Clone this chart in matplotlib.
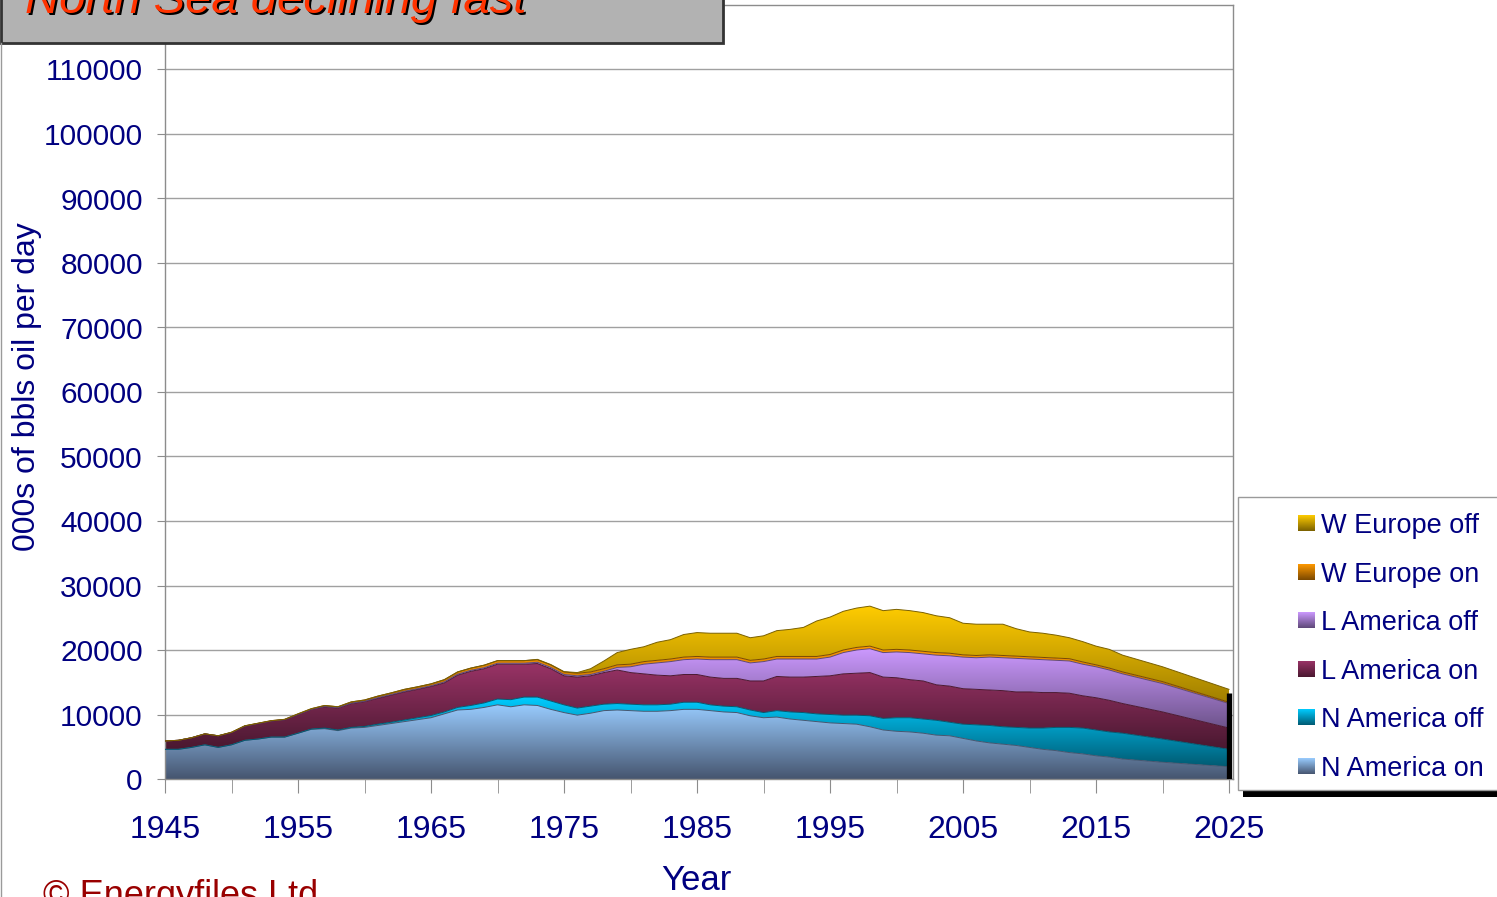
import matplotlib.pyplot as plt
import numpy as np
from matplotlib.colors import LinearSegmentedColormap
from matplotlib.patches import Rectangle
from matplotlib.lines import Line2D

plt.rcParams['font.family'] = ['Liberation Sans', 'DejaVu Sans']

W, H = 1497, 897
NAVY = '#000080'

years = list(range(1945, 2018)) + [2020, 2025]

n_america_on = [4600, 4600, 4900, 5300, 4900, 5300, 6000, 6200, 6500, 6500,
                7100, 7700, 7800, 7500, 7900, 8000, 8300, 8600, 8900, 9200,
                9500, 10100, 10700, 10800, 11100, 11500, 11200, 11500, 11400, 10800,
                10300, 9900, 10200, 10600, 10700, 10600, 10500, 10500, 10600, 10800,
                10800, 10600, 10400, 10300, 9800, 9500, 9600, 9300, 9100, 8900,
                8700, 8600, 8500, 8100, 7600, 7400, 7300, 7100, 6800, 6700,
                6300, 5900, 5600, 5400, 5200, 4900, 4600, 4400, 4100, 3900,
                3600, 3400, 3100, 2600, 1900]
n_america_off = [0, 0, 0, 0, 0, 0, 0, 0, 0, 0,
                 0, 50, 100, 100, 100, 150, 200, 200, 250, 300,
                 350, 300, 400, 600, 700, 900, 1100, 1200, 1300, 1300,
                 1200, 1100, 1100, 1000, 1000, 1000, 1000, 1000, 1000, 1100,
                 1100, 900, 900, 900, 900, 800, 1000, 1100, 1200, 1200,
                 1300, 1300, 1400, 1700, 1800, 2100, 2200, 2200, 2300, 2100,
                 2200, 2500, 2700, 2700, 2800, 3000, 3300, 3600, 3900, 4000,
                 4000, 3900, 4000, 3600, 2700]
l_america_on = [1300, 1400, 1500, 1700, 1800, 1900, 2200, 2400, 2500, 2700,
                2900, 3050, 3300, 3400, 3700, 3850, 4000, 4200, 4350, 4400,
                4500, 4500, 5000, 5300, 5300, 5400, 5500, 5100, 5200, 5000,
                4500, 4800, 4700, 4900, 5200, 4900, 4800, 4600, 4400, 4300,
                4300, 4300, 4300, 4400, 4500, 4900, 5300, 5400, 5500, 5800,
                6000, 6400, 6500, 6700, 6400, 6200, 5900, 5900, 5500, 5600,
                5500, 5500, 5500, 5600, 5500, 5600, 5500, 5400, 5300, 5000,
                5000, 4900, 4600, 4200, 3300]
l_america_off = [0, 0, 0, 0, 0, 0, 0, 0, 0, 0,
                 0, 0, 50, 50, 50, 50, 100, 100, 100, 100,
                 100, 150, 150, 150, 150, 150, 150, 150, 200, 200,
                 200, 200, 200, 200, 400, 900, 1500, 1900, 2200, 2300,
                 2400, 2700, 2900, 2900, 2800, 3000, 2700, 2800, 2800, 2700,
                 2900, 3300, 3600, 3700, 3800, 4000, 4200, 4200, 4600, 4700,
                 4900, 4900, 5100, 5100, 5200, 5100, 5100, 5000, 5000, 4900,
                 4800, 4700, 4600, 4400, 3800]
w_europe_on = [0, 0, 0, 0, 0, 50, 50, 50, 50, 50,
               100, 100, 150, 150, 200, 200, 250, 250, 300, 300,
               300, 350, 350, 350, 400, 400, 400, 400, 400, 400,
               400, 400, 400, 400, 400, 400, 400, 400, 400, 400,
               400, 400, 400, 400, 400, 400, 400, 400, 400, 400,
               400, 400, 400, 400, 400, 400, 400, 400, 400, 400,
               350, 350, 350, 350, 350, 350, 350, 350, 350, 350,
               300, 300, 300, 300, 200]
w_europe_off = [0, 0, 0, 0, 0, 0, 0, 0, 0, 0,
                0, 0, 0, 0, 0, 0, 0, 0, 0, 0,
                0, 0, 0, 0, 0, 0, 0, 0, 50, 50,
                50, 100, 500, 1200, 1900, 2300, 2300, 2800, 3000, 3500,
                3700, 3700, 3700, 3700, 3500, 3600, 4000, 4200, 4500, 5500,
                5800, 6000, 6100, 6200, 6100, 6200, 6100, 6000, 5700, 5500,
                4900, 4850, 4750, 4850, 4250, 3850, 3750, 3550, 3250, 3150,
                2900, 2900, 2600, 2300, 2000]

series = [
    ('N America on', n_america_on, '#99ccff', '#46556f'),
    ('N America off', n_america_off, '#00ccff', '#005a72'),
    ('L America on', l_america_on, '#993366', '#4a1830'),
    ('L America off', l_america_off, '#cc99ff', '#5e4878'),
    ('W Europe on', w_europe_on, '#ff9900', '#7a4800'),
    ('W Europe off', w_europe_off, '#ffcc00', '#7a6000'),
]

fig = plt.figure(figsize=(W / 100, H / 100), dpi=100)
ax = fig.add_axes([165 / W, 1 - 779 / H, (1233 - 165) / W, (779 - 5) / H])

x = np.array(years, dtype=float)
grad = np.linspace(0, 1, 256).reshape(-1, 1)
base = np.zeros(len(years))
for name, vals, light, dark in series:
    top = base + np.array(vals, dtype=float)
    coll = ax.fill_between(x, base, top, facecolor='none', edgecolor='none')
    cmap = LinearSegmentedColormap.from_list(name, [dark, light])
    im = ax.imshow(grad, cmap=cmap, aspect='auto', origin='lower',
                   extent=[x[0], x[-1], base.min(), top.max()],
                   interpolation='bilinear', zorder=2)
    im.set_clip_path(coll.get_paths()[0], transform=ax.transData)
    ax.plot(x, top, color=dark, lw=0.7, zorder=3)
    base = top

# dark edge at the last year
ax.vlines(years[-1], 0, base[-1] * 0.96, color='black', lw=3.8, zorder=4)

ax.set_xlim(1945, 2025.3)
ax.set_ylim(0, 120000)
ax.set_yticks(range(0, 110001, 10000))
ax.set_yticklabels([str(v) for v in range(0, 110001, 10000)])
ax.set_xticks(range(1945, 2026, 10))
ax.set_xticks(range(1950, 2021, 10), minor=True)
ax.grid(axis='y', color='#a0a0a0', lw=1, zorder=0)
ax.set_axisbelow(True)
for s in ax.spines.values():
    s.set_color('#8c8c8c')
    s.set_linewidth(1)
ax.tick_params(axis='y', length=6, color='#8c8c8c', labelsize=21.5,
               labelcolor=NAVY, pad=10)
ax.tick_params(axis='x', which='both', length=10, color='#8c8c8c',
               labelsize=23, labelcolor=NAVY, pad=16)

fig.text(27 / W, 1 - 387 / H, '000s of bbls oil per day', rotation=90,
         ha='center', va='center', fontsize=23, color=NAVY)
fig.text(696 / W, 1 - 880 / H, 'Year', ha='center', va='center',
         fontsize=25, color=NAVY)
fig.text(43 / W, 1 - 879 / H, '\u00a9 Energyfiles Ltd', ha='left', va='top',
         fontsize=26, color='#990000')

# outer chart border on the left
fig.add_artist(Line2D([1.5 / W, 1.5 / W], [0, 1 - 43 / H], color='#9a9a9a', lw=1))

# title box
fig.add_artist(Rectangle((1 / W, 1 - 43 / H), 722 / W, 60 / H,
                         facecolor='#b2b2b2', edgecolor='#333333', lw=2))
title = 'North Sea declining fast'
fig.text(27 / W, 1 - 15 / H, title, fontsize=34, style='italic',
         color='black', va='baseline')
fig.text(25 / W, 1 - 13 / H, title, fontsize=34, style='italic',
         color='#ff3300', va='baseline')

# legend
fig.add_artist(Rectangle((1243 / W, 1 - 797 / H), 300 / W, 300 / H,
                         facecolor='black', edgecolor='none'))
fig.add_artist(Rectangle((1238 / W, 1 - 790 / H), 300 / W, 293 / H,
                         facecolor='white', edgecolor='#9a9a9a', lw=1))
for i, (name, vals, light, dark) in enumerate(reversed(series)):
    yc = 523 + i * 48.6
    sq = fig.add_axes([1298 / W, 1 - (yc + 8) / H, 17 / W, 16 / H])
    sq.set_zorder(5)
    sq.imshow(grad, cmap=LinearSegmentedColormap.from_list(name + 'l', [dark, light]),
              aspect='auto', origin='lower')
    sq.axis('off')
    fig.text(1321 / W, 1 - yc / H, name, fontsize=19.5, color=NAVY,
             va='center_baseline', ha='left')

fig.savefig('out.png', dpi=100)
